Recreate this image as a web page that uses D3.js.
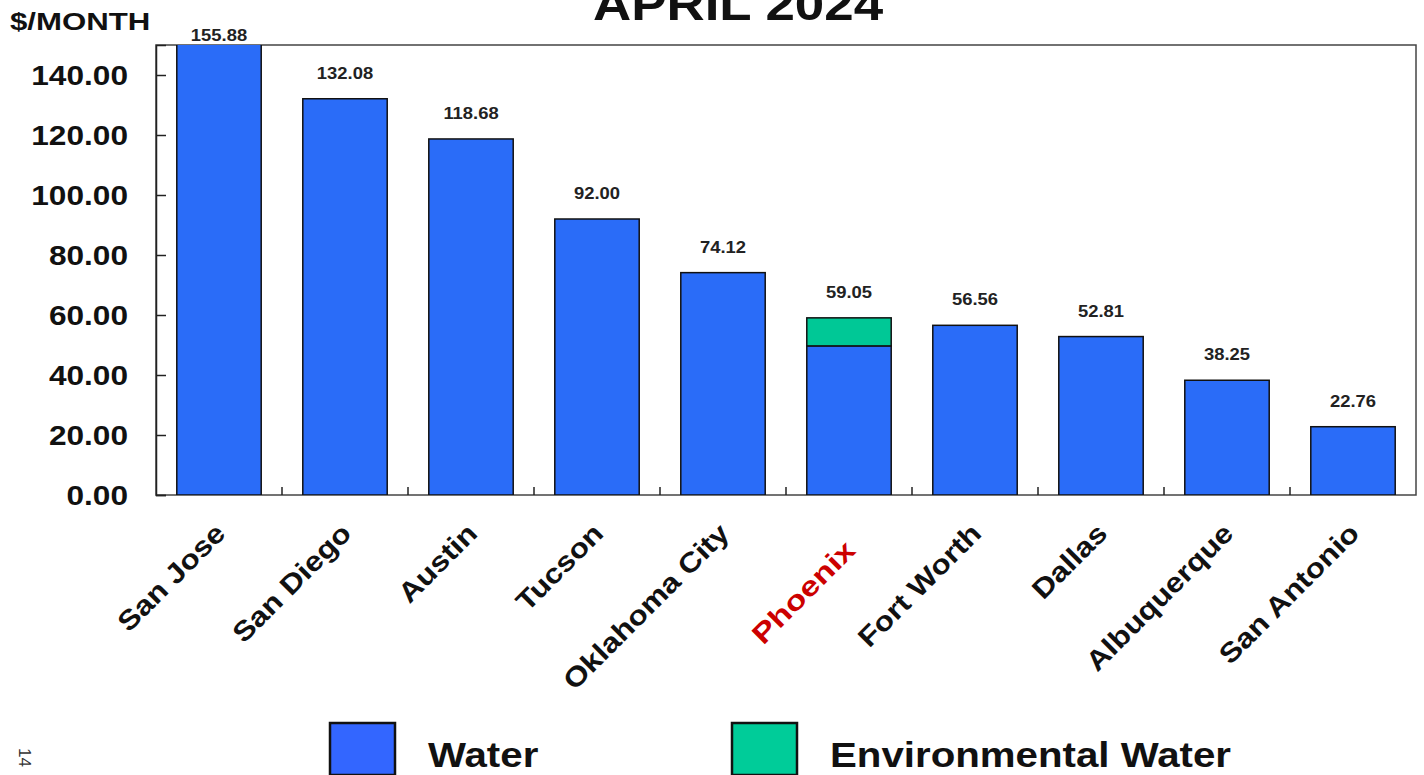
<!DOCTYPE html>
<html><head><meta charset="utf-8">
<script src="https://cdn.jsdelivr.net/npm/d3@7"></script>
<style>body{margin:0;background:#fff;}svg{display:block;font-family:"Liberation Sans",Arial,sans-serif;}</style>
</head><body>
<svg id="c" width="1424" height="775"></svg>
<script>
const cities = ["San Jose","San Diego","Austin","Tucson","Oklahoma City","Phoenix","Fort Worth","Dallas","Albuquerque","San Antonio"];
const water = [155.88,132.08,118.68,92.00,74.12,49.70,56.56,52.81,38.25,22.76];
const envWater = [0,0,0,0,0,9.35,0,0,0,0];
const totals = [155.88,132.08,118.68,92.00,74.12,59.05,56.56,52.81,38.25,22.76];
const yTicks = [0,20,40,60,80,100,120,140];
const seriesNames = ["Water","Environmental Water"];
const title = "APRIL 2024";
const unitLabel = "$/MONTH";
const pageNum = "14";

const svg = d3.select("#c");
const m = {l:156, r:1416, t:45, b:495};
const x = d3.scaleBand().domain(cities).range([m.l,m.r]).paddingInner(0.33).paddingOuter(0.165);
const y = d3.scaleLinear().domain([0,150]).range([m.b,m.t]);
const blue="#2a6cf8", green="#00c896";
const SX = 1.15;

function stext(px,py,str,size,anchor,extra,sx){
  const t = svg.append("text").attr("transform",`translate(${px},${py}) ${extra||""} scale(${sx||SX},1)`)
    .attr("text-anchor",anchor||"start").attr("font-size",size).attr("font-weight","bold").attr("fill","#111").text(str);
  return t;
}

svg.append("defs").append("clipPath").attr("id","pc").append("rect")
  .attr("x",m.l).attr("y",m.t).attr("width",m.r-m.l).attr("height",m.b-m.t);

// title & unit
stext(738,20,title,46,"middle");
stext(10,30,unitLabel,24,"start","",1.3);

// frame
svg.append("rect").attr("x",m.l).attr("y",m.t).attr("width",m.r-m.l).attr("height",m.b-m.t)
  .attr("fill","none").attr("stroke","#444").attr("stroke-width",1.5);

// bars
const g = svg.append("g").attr("clip-path","url(#pc)");
g.selectAll(".w").data(cities).join("rect")
  .attr("x",d=>x(d)).attr("width",x.bandwidth())
  .attr("y",(d,i)=>y(water[i])).attr("height",(d,i)=>y(0)-y(water[i]))
  .attr("fill",blue).attr("stroke","#111").attr("stroke-width",1.5);
g.selectAll(".e").data(cities.filter((d,i)=>envWater[i]>0)).join("rect")
  .attr("x",d=>x(d)).attr("width",x.bandwidth())
  .attr("y",d=>{const i=cities.indexOf(d);return y(water[i]+envWater[i]);})
  .attr("height",d=>{const i=cities.indexOf(d);return y(water[i])-y(water[i]+envWater[i]);})
  .attr("fill",green).attr("stroke","#111").attr("stroke-width",1.5);

// value labels
cities.forEach((c,i)=>{
  const yy = totals[i]>150 ? m.t-4 : y(totals[i])-20;
  stext(x(c)+x.bandwidth()/2, yy, totals[i].toFixed(2), 16, "middle").attr("fill","#222");
});

// y axis (inner ticks)
const ya = svg.append("g").attr("transform",`translate(${m.l},0)`)
  .call(d3.axisLeft(y).tickValues(yTicks).tickSize(-10).tickFormat(""));
ya.select(".domain").attr("stroke","#222").attr("stroke-width",1.5);
ya.selectAll(".tick line").attr("stroke","#222").attr("stroke-width",1.5);
yTicks.forEach(v=>{
  stext(128, y(v)+10, d3.format(".2f")(v), 27.5, "end");
});

// x boundary ticks
const step=(m.r-m.l)/cities.length;
svg.selectAll(".xt").data(d3.range(1,cities.length)).join("line")
  .attr("x1",i=>m.l+i*step).attr("x2",i=>m.l+i*step)
  .attr("y1",m.b).attr("y2",m.b-8).attr("stroke","#222").attr("stroke-width",1.5);

// x labels
cities.forEach(c=>{
  const hl = c==="Phoenix";
  stext(x(c)+x.bandwidth()/2+8, m.b+40+(hl?17:0), c, 27.5, "end", "rotate(-45)", hl?1.24:SX)
    .attr("fill", hl?"#cc0000":"#111");
});

// legend
const leg=[{x:330,c:"#3366ff"},{x:732,c:"#00cc99"}];
leg.forEach((L,i)=>{
  svg.append("rect").attr("x",L.x).attr("y",723).attr("width",65).attr("height",52)
    .attr("fill",L.c).attr("stroke","#111").attr("stroke-width",2.5);
  stext(L.x+98,767,seriesNames[i],35,"start");
});

// page number
svg.append("text").attr("transform","translate(19,748) rotate(90)").attr("font-size",17).attr("fill","#333").text(pageNum);
</script>
</body></html>
